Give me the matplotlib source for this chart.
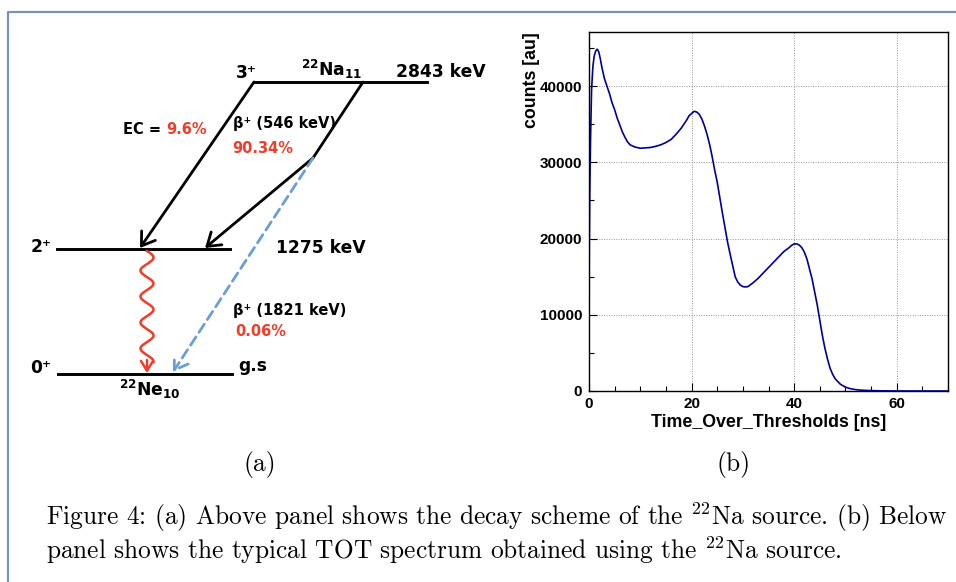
import matplotlib
matplotlib.use("Agg")
import matplotlib.pyplot as plt
import numpy as np
from matplotlib.ticker import MultipleLocator

# TOT spectrum
tot_ns = [0.0, 0.05, 0.15, 0.3, 0.5, 0.75, 1.0, 1.3, 1.6, 1.9, 2.2, 2.5, 3.0, 3.5,
          4.0, 4.5, 5.0, 5.5, 6.0, 6.5, 7.0, 7.5, 8.0, 9.0, 10.0, 11.0, 12.0, 13.0,
          14.0, 15.0, 16.0, 17.0, 18.0, 19.0, 19.5, 20.0, 20.5, 21.0, 21.5, 22.0,
          22.5, 23.0, 23.5, 24.0, 24.5, 25.0, 25.5, 26.0, 26.5, 27.0, 27.5, 28.0,
          28.5, 29.0, 29.5, 30.0, 30.5, 31.0, 32.0, 33.0, 34.0, 35.0, 36.0, 37.0,
          38.0, 39.0, 39.5, 40.0, 40.5, 41.0, 41.5, 42.0, 42.5, 43.0, 43.5, 44.0,
          44.5, 45.0, 45.5, 46.0, 46.5, 47.0, 47.5, 48.0, 49.0, 50.0, 51.0, 52.0,
          53.0, 55.0, 57.0, 60.0, 65.0, 70.0]
counts = [0, 18000, 26000, 33000, 39500, 42500, 43900, 44600, 44850, 44500, 43600,
          42500, 41000, 40000, 39000, 37800, 36900, 35800, 34900, 34000, 33300,
          32700, 32300, 32000, 31850, 31900, 31950, 32100, 32300, 32600, 33000,
          33700, 34500, 35500, 36100, 36400, 36700, 36600, 36300, 35700, 34800,
          33700, 32400, 30800, 29000, 27400, 25400, 23400, 21500, 19600, 18000,
          16500, 15000, 14300, 13900, 13700, 13650, 13700, 14200, 14800, 15500,
          16200, 16900, 17600, 18300, 18800, 19100, 19300, 19300, 19150, 18800,
          18200, 17300, 16000, 14700, 13000, 11300, 9300, 7300, 5600, 4200, 3000,
          2200, 1600, 900, 500, 300, 180, 110, 50, 20, 5, 0, 0]

# decay scheme texts
level_labels = ["3⁺", "2⁺", "0⁺"]
level_energies = ["2843 keV", "1275 keV", "g.s"]
ec_branch = ("EC = ", "9.6%")
beta_546 = ("β⁺ (546 keV)", "90.34%")
beta_1821 = ("β⁺ (1821 keV)", "0.06%")

caption_1 = r"Figure 4: (a) Above panel shows the decay scheme of the $^{22}$Na source. (b) Below"
caption_2 = r"panel shows the typical TOT spectrum obtained using the $^{22}$Na source."

W, H = 956, 582
fig = plt.figure(figsize=(W / 100, H / 100), dpi=100)

# ---- panel (b): TOT spectrum ----
ax = fig.add_axes([589 / W, 1 - 391 / H, 359 / W, 359 / H])
ax.plot(tot_ns, counts, color="#000099", lw=1.2)
ax.set_xlim(0, 70)
ax.set_ylim(0, 47100)
ax.xaxis.set_major_locator(MultipleLocator(20))
ax.xaxis.set_minor_locator(MultipleLocator(5))
ax.yaxis.set_major_locator(MultipleLocator(10000))
ax.yaxis.set_minor_locator(MultipleLocator(5000))
ax.tick_params(which="both", direction="in", top=False, right=False)
ax.tick_params(which="major", length=6, width=0.8)
ax.tick_params(which="minor", length=3.5, width=0.8)
ax.tick_params(axis="x", pad=4)
ax.tick_params(axis="y", pad=5)
for lab in ax.get_xticklabels() + ax.get_yticklabels():
    lab.set_fontfamily("Liberation Sans")
    lab.set_fontweight("bold")
    lab.set_fontsize(11)
ax.grid(True, which="major", linestyle=(0, (1, 1.5)), color="#999999", lw=0.7)
for sp in ax.spines.values():
    sp.set_linewidth(1.0)
ax.set_xlabel("Time_Over_Thresholds [ns]", fontfamily="Liberation Sans",
              fontweight="bold", fontsize=12.8)
ax.xaxis.set_label_coords(0.5, -0.065)
ax.xaxis.label.set_va("top")
ax.set_ylabel("counts [au]", fontfamily="Liberation Sans", fontweight="bold",
              fontsize=12.8, loc="top")
ax.yaxis.set_label_coords(-0.136, 1.0)

# ---- overlay in pixel coordinates: frame, decay scheme, captions ----
ov = fig.add_axes([0, 0, 1, 1])
ov.set_xlim(0, W)
ov.set_ylim(H, 0)
ov.axis("off")

ov.plot([8, 8, W], [H, 12, 12], color="#7d93b0", lw=1.6, solid_capstyle="butt")

black = "#000000"
red = "#f03c28"
blue = "#6a9fd6"

# levels
ov.plot([254, 427], [82, 82], color=black, lw=2.1)
ov.plot([57, 230], [249, 249], color=black, lw=2.1)
ov.plot([58, 232], [374, 374], color=black, lw=2.1)

arrow = dict(arrowstyle="->,head_length=0.45,head_width=0.3", color=black, lw=2.0,
             mutation_scale=20, shrinkA=0, shrinkB=0)
ov.annotate("", xy=(140, 248), xytext=(254, 82), arrowprops=arrow)
ov.plot([363, 313], [82, 158], color=black, lw=2.0, solid_capstyle="round")
ov.annotate("", xy=(205, 248), xytext=(313, 158), arrowprops=arrow)
ov.annotate("", xy=(173, 372), xytext=(313, 158),
            arrowprops=dict(arrowstyle="->,head_length=0.45,head_width=0.3",
                            color=blue, lw=2.0, ls=(0, (3.5, 2)),
                            mutation_scale=20, shrinkA=0, shrinkB=0))

# gamma wiggle
wy = np.linspace(251, 362, 300)
wx = 147 + 6.5 * np.sin(2 * np.pi * (wy - 251) / 26.0)
ov.plot(wx, wy, color=red, lw=1.8)
ov.annotate("", xy=(147, 373), xytext=(147, 360),
            arrowprops=dict(arrowstyle="->,head_length=0.35,head_width=0.22",
                            color=red, lw=1.8, mutation_scale=20,
                            shrinkA=0, shrinkB=0))

big = dict(fontfamily="DejaVu Sans", fontweight="bold", fontsize=12.3, va="baseline")
small = dict(fontfamily="DejaVu Sans", fontweight="bold", fontsize=10.5, va="baseline")

ov.text(236, 78, level_labels[0], ha="left", **big)
ov.text(31, 252, level_labels[1], ha="left", **big)
ov.text(30, 373, level_labels[2], ha="left", **big)
ov.text(396, 77, level_energies[0], ha="left", **big)
ov.text(276, 253, level_energies[1], ha="left", **big)
ov.text(238, 371, level_energies[2], ha="left", **big)
ov.text(332, 76, r"$^{\mathbf{22}}\mathbf{Na}_{\mathbf{11}}$", ha="center",
        math_fontfamily="dejavusans", **big)
ov.text(150, 396, r"$^{\mathbf{22}}\mathbf{Ne}_{\mathbf{10}}$", ha="center",
        math_fontfamily="dejavusans", **big)

t = ov.text(123, 134, ec_branch[0], ha="left", **small)
ov.annotate(ec_branch[1], xycoords=t, xy=(1, 0), va="bottom", ha="left",
            color=red, fontfamily="DejaVu Sans", fontweight="bold", fontsize=10.5)
ov.text(233, 128, beta_546[0], ha="left", **small)
ov.text(232, 153, beta_546[1], ha="left", color=red, **small)
ov.text(233, 315, beta_1821[0], ha="left", **small)
ov.text(235, 336, beta_1821[1], ha="left", color=red, **small)

# sub-captions and figure caption
serif = dict(fontfamily="cmr10", math_fontfamily="cm", fontsize=18.3)
ov.text(260, 471, "(a)", ha="center", va="baseline", **serif)
ov.text(734, 471, "(b)", ha="center", va="baseline", **serif)
ov.text(46, 525, caption_1, ha="left", va="baseline", **serif)
ov.text(46, 559, caption_2, ha="left", va="baseline", **serif)

fig.savefig("out.png", dpi=100)
